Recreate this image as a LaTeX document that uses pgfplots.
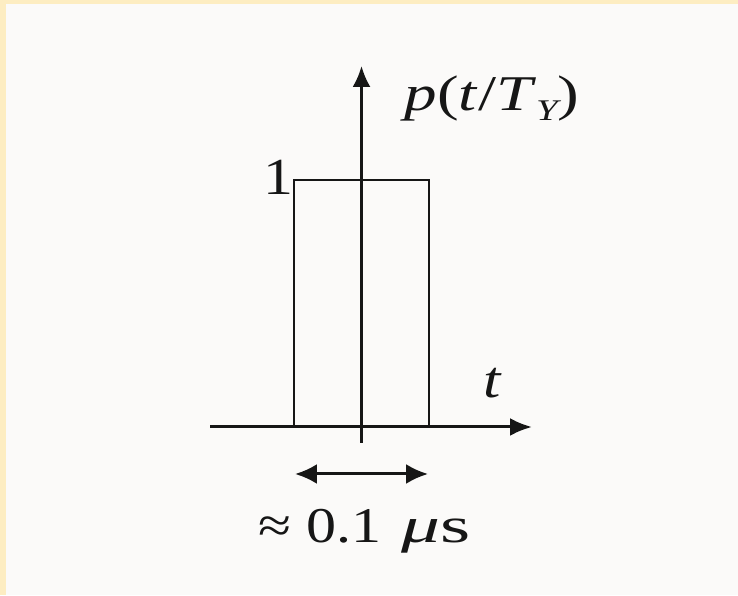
\documentclass[border=0pt]{standalone}
\usepackage{pgfplots}
\pgfplotsset{compat=1.18}
\usepackage{fontspec}
\setmainfont{Liberation Serif}
\usetikzlibrary{arrows.meta}

\definecolor{paper}{HTML}{FBFAF9}
\definecolor{edge}{HTML}{FDEDC2}
\definecolor{ink}{HTML}{161616}

\begin{document}
\begin{tikzpicture}[x=1pt,y=1pt]
  % page background with the cream margin on the left and top
  \fill[paper] (0,0) rectangle (738,595);
  \fill[edge] (0,0) rectangle (5.5,595);
  \fill[edge] (0,591) rectangle (738,595);
  \begin{axis}[
      at={(0,0)}, anchor=south west,
      scale only axis, width=738pt, height=595pt,
      xmin=-0.2678, xmax=0.2789,
      ymin=-0.6802, ymax=1.7287,
      hide axis, clip=false,
    ]
    % rectangular pulse of width 0.1 us and height 1
    \addplot[ink, line width=2.3pt, line join=miter] coordinates {
      (-0.05,0) (-0.05,1) (0.05,1) (0.05,0)
    };
    % time axis
    \addplot[ink, line width=3pt, -{Latex[length=22pt,width=18pt]}] coordinates {
      (-0.1122,0) (0.1263,0)
    };
    % amplitude axis
    \addplot[ink, line width=2.6pt, -{Latex[length=21pt,width=18pt]}] coordinates {
      (0,-0.0648) (0,1.4615)
    };
    % pulse-width marker
    \addplot[ink, line width=3pt, {Latex[length=22pt,width=20pt]}-{Latex[length=22pt,width=20pt]}] coordinates {
      (-0.0493,-0.1903) (0.0493,-0.1903)
    };
    \node[ink, xscale=1.15, font=\fontsize{52}{56}\selectfont] at (axis cs:-0.0619,1.0121) {1};
    \node[ink, anchor=west, xscale=1.3, font=\fontsize{50}{54}\selectfont]
      at (axis cs:0.0285,1.332) {\textit{p}(\textit{t}/\textit{T}\raisebox{-10pt}{\fontsize{30}{32}\selectfont\itshape Y})};
    \node[ink, xscale=1.2, font=\fontsize{52}{56}\selectfont\itshape] at (axis cs:0.0967,0.1781) {t};
    \node[ink, inner sep=0pt, font=\fontsize{50}{54}\selectfont]
      at (axis cs:0.0022,-0.4211)
      {\scalebox{1.2}[1]{≈}\hspace{15pt}\scalebox{1.2}[1]{0.1}\hspace{20pt}\scalebox{1.55}[1]{\textit{μ}s}};
  \end{axis}
\end{tikzpicture}
\end{document}
